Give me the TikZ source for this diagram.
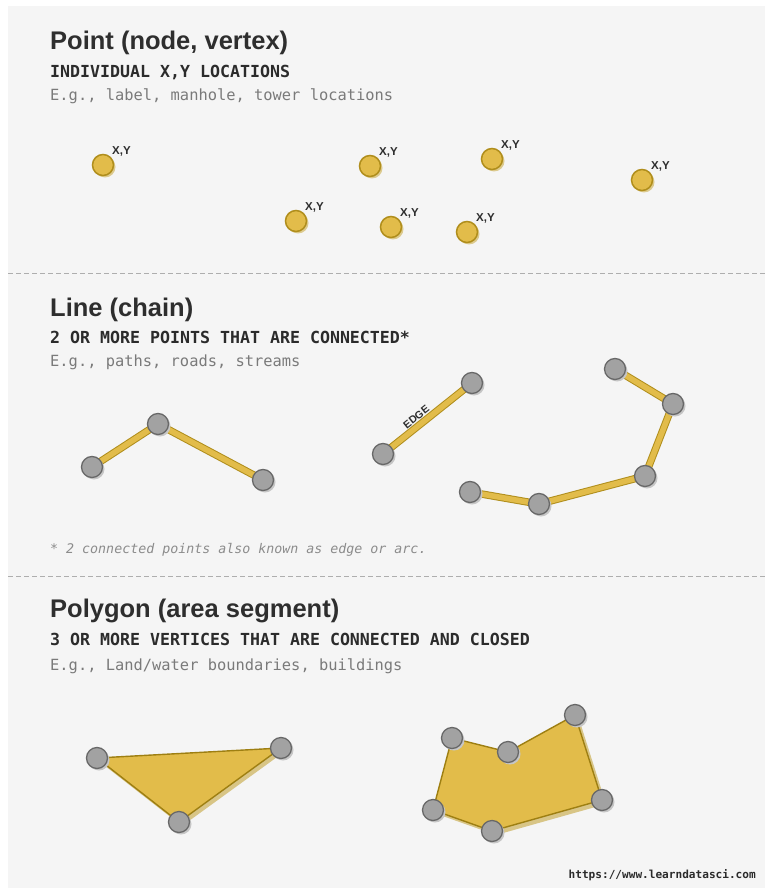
\documentclass[tikz,border=0pt]{standalone}
\usepackage{fontspec}
\setmainfont{Liberation Sans}
\setmonofont{DejaVu Sans Mono}
\usepackage{xcolor}
\definecolor{panel}{HTML}{F5F5F5}
\definecolor{ink}{HTML}{2E2E2E}
\definecolor{subink}{HTML}{2B2B2B}
\definecolor{descink}{HTML}{7A7A7A}
\definecolor{noteink}{HTML}{8C8C8C}
\definecolor{rule}{HTML}{AEAEAE}
\definecolor{gold}{HTML}{E2BC4A}
\definecolor{golddark}{HTML}{B08E1C}
\definecolor{goldshade}{HTML}{DCCA8E}
\definecolor{stone}{HTML}{A2A2A2}
\definecolor{stonedark}{HTML}{686868}
\definecolor{stoneshade}{HTML}{C6C6C6}
\definecolor{polyrim}{HTML}{9E7F12}
\definecolor{polyshade}{HTML}{D8C586}
\usepackage{tikz}
\usetikzlibrary{shadows,positioning}
\pgfdeclarelayer{back}
\pgfdeclarelayer{under}
\pgfsetlayers{back,under,main}

\begin{document}
\begin{tikzpicture}[x=1pt,y=-1pt,
  headtxt/.style={anchor=base west,inner sep=0,text=ink,font=\fontsize{25.5}{29}\selectfont\bfseries},
  subtxt/.style={anchor=base west,inner sep=0,text=subink,font=\ttfamily\bfseries\fontsize{16.6}{20}\selectfont},
  desctxt/.style={anchor=base west,inner sep=0,text=descink,font=\ttfamily\fontsize{15.4}{18}\selectfont},
  notetxt/.style={anchor=base west,inner sep=0,text=noteink,font=\ttfamily\itshape\fontsize{13.3}{16}\selectfont},
  urltxt/.style={anchor=base east,inner sep=0,text=subink,font=\ttfamily\bfseries\fontsize{11.1}{13}\selectfont},
  xy/.style={inner sep=1pt,text=ink,font=\fontsize{11.5}{12}\selectfont\bfseries},
  dot/.style={circle,minimum size=21pt,inner sep=0,fill=gold,draw=golddark,line width=1.5pt,
    drop shadow={shadow xshift=2pt,shadow yshift=-2pt,fill=goldshade,opacity=1}},
  vtx/.style={circle,minimum size=21pt,inner sep=0,fill=stone,draw=stonedark,line width=1.3pt,
    drop shadow={shadow xshift=2pt,shadow yshift=-2pt,fill=stoneshade,opacity=1}},
  seg/.style={draw=golddark,line width=1pt,double=gold,double distance=5.5pt},
  poly/.style={fill=gold,draw=polyrim,line width=1.4pt,line join=round},
  sepline/.style={rule,line width=0.8pt,dash pattern=on 5pt off 3pt}]
  \useasboundingbox (0,0) rectangle (765,890);
  \begin{pgfonlayer}{back}
    \fill[white] (0,0) rectangle (765,890);
    \fill[panel] (8,6) rectangle (765,888);
    \draw[sepline] (8,273.5) -- (765,273.5);
    \draw[sepline] (8,576.5) -- (765,576.5);
  \end{pgfonlayer}

  % points
  \node[headtxt] (h1) at (50,50) {Point (node, vertex)};
  \node[subtxt] (s1) at (50,77.5) {INDIVIDUAL X,Y LOCATIONS};
  \node[desctxt] (d1) at (50,100.5) {E.g., label, manhole, tower locations};
  \node[dot,label={[xy]north east:X,Y}] (p1) at (103,165) {};
  \node[dot,label={[xy]north east:X,Y}] (p2) at (370,166) {};
  \node[dot,label={[xy]north east:X,Y}] (p3) at (492,159) {};
  \node[dot,label={[xy]north east:X,Y}] (p4) at (642,180) {};
  \node[dot,label={[xy]north east:X,Y}] (p5) at (296,221) {};
  \node[dot,label={[xy]north east:X,Y}] (p6) at (391,227) {};
  \node[dot,label={[xy]north east:X,Y}] (p7) at (467,232) {};

  % lines
  \node[headtxt] (h2) at (50,316) {Line (chain)};
  \node[subtxt] (s2) at (50,343.5) {2 OR MORE POINTS THAT ARE CONNECTED*};
  \node[desctxt] (d2) at (50,366) {E.g., paths, roads, streams};
  \node[vtx] (a1) at (92,467) {};
  \node[vtx] (a2) at (158,424) {};
  \node[vtx] (a3) at (263,480) {};
  \node[vtx] (e1) at (383,454) {};
  \node[vtx] (e2) at (472,383) {};
  \node[vtx] (c1) at (615,369) {};
  \node[vtx] (c2) at (673,404) {};
  \node[vtx] (c3) at (645,476) {};
  \node[vtx] (c4) at (539,504) {};
  \node[vtx] (c5) at (470,492) {};
  \begin{pgfonlayer}{under}
    \draw[seg] (a1.center) -- (a2.center) -- (a3.center);
    \draw[seg] (e1.center) -- node[pos=0.43,sloped,above=3pt,xy,font=\fontsize{10.5}{11}\selectfont\bfseries] {EDGE} (e2.center);
    \draw[seg] (c1.center) -- (c2.center) -- (c3.center) -- (c4.center) -- (c5.center);
  \end{pgfonlayer}
  \node[notetxt] (n2) at (50,553) {* 2 connected points also known as edge or arc.};

  % polygons
  \node[headtxt] (h3) at (50,617.5) {Polygon (area segment)};
  \node[subtxt] (s3) at (50,645.5) {3 OR MORE VERTICES THAT ARE CONNECTED AND CLOSED};
  \node[desctxt] (d3) at (50,670) {E.g., Land/water boundaries, buildings};
  \node[vtx] (t1) at (97,758) {};
  \node[vtx] (t2) at (281,748) {};
  \node[vtx] (t3) at (179,822) {};
  \node[vtx] (q1) at (452,738) {};
  \node[vtx] (q2) at (508,752) {};
  \node[vtx] (q3) at (575,715) {};
  \node[vtx] (q4) at (602,800) {};
  \node[vtx] (q5) at (492,831) {};
  \node[vtx] (q6) at (433,810) {};
  \begin{pgfonlayer}{under}
    \fill[polyshade] ([shift={(3,4)}]t1.center) -- ([shift={(3,4)}]t2.center) -- ([shift={(3,4)}]t3.center) -- cycle;
    \draw[poly] (t1.center) -- (t2.center) -- (t3.center) -- cycle;
    \fill[polyshade] ([shift={(4,4)}]q1.center) -- ([shift={(4,4)}]q2.center) -- ([shift={(4,4)}]q3.center)
      -- ([shift={(4,4)}]q4.center) -- ([shift={(4,4)}]q5.center) -- ([shift={(4,4)}]q6.center) -- cycle;
    \draw[poly] (q1.center) -- (q2.center) -- (q3.center) -- (q4.center) -- (q5.center) -- (q6.center) -- cycle;
  \end{pgfonlayer}

  \node[urltxt] (url) at (756,878) {https://www.learndatasci.com};
\end{tikzpicture}
\end{document}
